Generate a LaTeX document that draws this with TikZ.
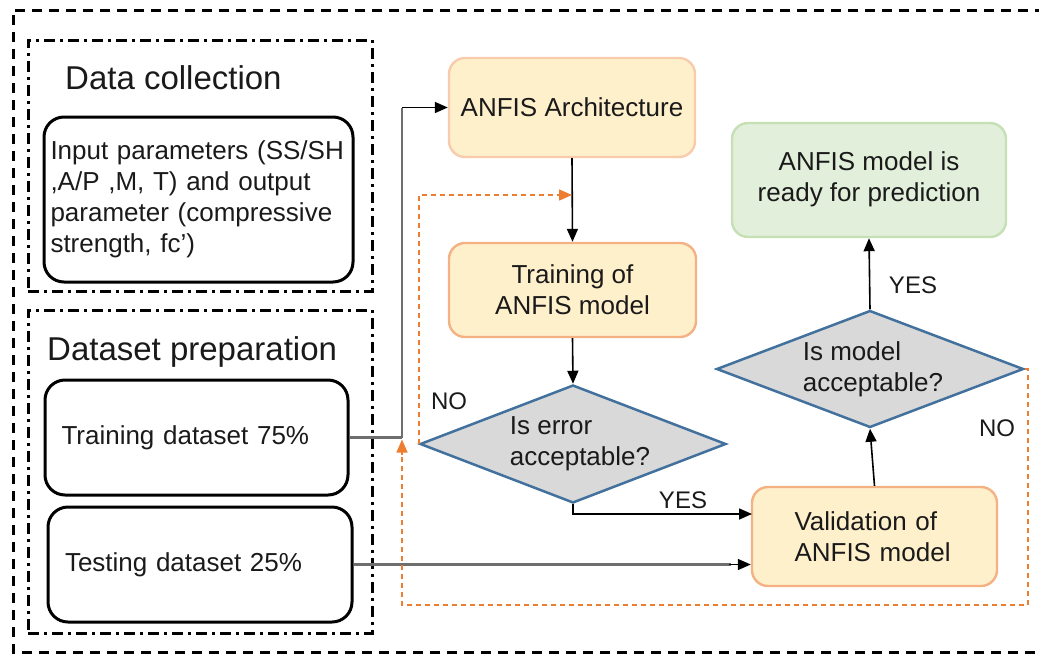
\documentclass[tikz,border=0pt]{standalone}
\usepackage{fontspec}
\setmainfont{Liberation Sans}
\usetikzlibrary{shapes.geometric,arrows.meta,calc}
\definecolor{txt}{HTML}{1A1A1A}
\definecolor{boxfill}{HTML}{FFF0CC}
\definecolor{boxline}{HTML}{F4B183}
\definecolor{boxlinelight}{HTML}{F8CBAD}
\definecolor{grfill}{HTML}{E2EFDA}
\definecolor{grline}{HTML}{C5E0B4}
\definecolor{dfill}{HTML}{D9D9D9}
\definecolor{dline}{HTML}{41719C}
\definecolor{orng}{HTML}{ED7D31}
\definecolor{conngray}{HTML}{6E6E6E}
\tikzset{
  body/.style={font=\fontsize{26}{31}\selectfont, text=txt},
  heading/.style={font=\fontsize{33}{38}\selectfont, text=txt, inner sep=0pt},
  lbl/.style={font=\fontsize{24}{28}\selectfont, text=txt, inner sep=0pt},
  ddbox/.style={draw=black, line width=3pt, dash pattern=on 11pt off 5pt on 3pt off 5pt, inner sep=0pt},
  blackbox/.style={body, draw=black, line width=3pt, rounded corners=20pt, align=left},
  orbox/.style={body, draw=boxline, fill=boxfill, line width=2.4pt, rounded corners=16pt, inner sep=0pt},
  grbox/.style={body, draw=grline, fill=grfill, line width=2.4pt, rounded corners=16pt, inner sep=0pt, align=center},
  decision/.style={body, diamond, draw=dline, fill=dfill, line width=2.5pt, aspect=2.6, inner sep=0pt, align=left},
  conn/.style={draw=black, line width=1.6pt, -{Triangle[length=13pt,width=11pt]}},
  gconn/.style={draw=conngray, line width=2.2pt},
  odash/.style={draw=orng, line width=1.5pt, dash pattern=on 5pt off 4pt},
  otip/.style={-{Triangle[length=13pt,width=11pt,fill=orng]}, }
}
\begin{document}
\begin{tikzpicture}[x=1pt,y=-1pt]
\useasboundingbox (0,0) rectangle (1039,654);
% outer dashed frame (right side outside picture)
\draw[line width=3pt, dash pattern=on 10pt off 7pt] (1045,10) -- (13,10) -- (13,652) -- (1045,652);

% group boxes
\node[ddbox, minimum width=344pt, minimum height=251pt] (dc) at (200,165.5) {};
\node[ddbox, minimum width=344pt, minimum height=323pt] (dp) at (200,471.5) {};
\node[heading, anchor=west] (dch) at (65,78) {Data collection};
\node[heading, anchor=west] (dph) at (47,352) {Dataset preparation};

% data boxes
\node[blackbox, minimum width=309pt, minimum height=165pt, text width=296pt, inner xsep=6.5pt] (inp) at (198.5,199.5)
  {Input parameters (SS/SH\\,A/P ,M, T) and output\\parameter (compressive\\strength, fc’)};
\node[blackbox, minimum width=303pt, minimum height=115pt, text width=270pt, inner xsep=16.5pt] (trn) at (196.5,437.5)
  {Training dataset 75\%};
\node[blackbox, minimum width=304pt, minimum height=115pt, text width=270pt, inner xsep=17pt] (tst) at (200,564.5)
  {\raisebox{5pt}{Testing dataset 25\%}};

% flow boxes
\node[orbox, draw=boxlinelight, minimum width=246pt, minimum height=99pt] (arch) at (572,107.5) {ANFIS Architecture};
\node[orbox, minimum width=247pt, minimum height=94pt, align=center] (tm) at (572.5,290) {Training of\\ANFIS model};
\node[decision, minimum width=306pt, minimum height=118pt] (d1) at (573,444) {\hspace*{14pt}Is error\\\hspace*{14pt}acceptable?};
\node[orbox, minimum width=245pt, minimum height=99pt, align=left, text width=160pt] (val) at (874.5,536.5) {Validation of\\ANFIS model};
\node[decision, minimum width=307pt, minimum height=117pt] (d2) at (870,369) {\hspace*{6pt}Is model\\\hspace*{6pt}acceptable?};
\node[grbox, minimum width=274pt, minimum height=114pt] (ready) at (869,180) {\raisebox{3pt}{\begin{tabular}{@{}c@{}}ANFIS model is\\ready for prediction\end{tabular}}};

% labels
\node[lbl] (no1) at (449,401) {NO};
\node[lbl] (yes1) at (683,500) {YES};
\node[lbl] (yes2) at (913,285) {YES};
\node[lbl] (no2) at (997,428) {NO};

% coordinates
\coordinate (j1) at (402,437.5);
\coordinate (y1) at (752,514);
\coordinate (o1) at (572,195);
\coordinate (o2) at (1028,605);

% connectors
\draw[gconn] (trn.east) -- (j1);
\draw[gconn] (j1) -- (j1 |- arch.west);
\draw[conn] (j1 |- arch.west) -- (arch.west);
\draw[conn] (arch.south) -- (tm.north);
\draw[conn] (tm.south) -- (d1.north);
\draw[conn] (d1.south) |- (y1);
\draw[gconn] (tst.east) -- ($(tst.east -| val.west)+(-20,0)$);
\draw[conn] ($(tst.east -| val.west)+(-22,0)$) -- (tst.east -| val.west);
\draw[conn] (val.north) -- (d2.south);
\draw[conn] (d2.north) -- (ready.south);

% orange NO loops
\draw[odash] (d1.west) -- (d1.west |- o1) -- ($(o1)+(-12,0)$);
\draw[draw=orng, line width=1.5pt, otip] ($(o1)+(-15,0)$) -- (o1);
\draw[odash] (d2.east) -| (o2) -| ($(j1)+(0,14)$);
\draw[draw=orng, line width=1.5pt, otip] ($(j1)+(0,17)$) -- ($(j1)+(0,2)$);
\end{tikzpicture}
\end{document}
